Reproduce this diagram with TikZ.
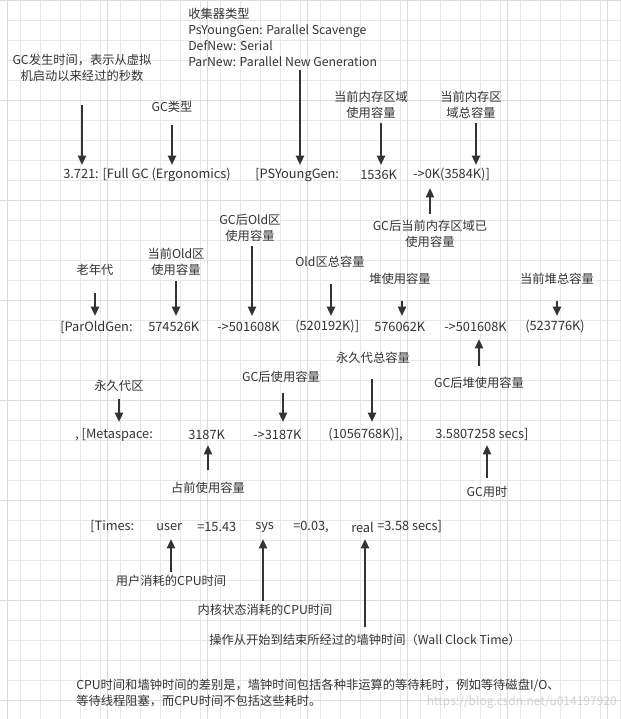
\documentclass[tikz,border=0pt]{standalone}
\usepackage{fontspec}
\setmainfont{Noto Sans CJK SC}
\usetikzlibrary{arrows.meta}
\definecolor{ink}{HTML}{333333}
\tikzset{
 lbl/.style={font=\fontsize{9.2pt}{12pt}\selectfont, text=ink, inner sep=0pt, align=center},
 code/.style={font=\fontsize{9.6pt}{12pt}\selectfont, text=ink, inner sep=0pt, anchor=west},
 arr/.style={draw=ink, line width=1.6pt, -{Triangle[length=7pt,width=6pt]}},
}
\begin{document}
\begin{tikzpicture}[x=0.75pt,y=-0.75pt]
\useasboundingbox (0,0) rectangle (621,719);
\fill[white] (0,0) rectangle (621,719);
\draw[black!9, line width=0.4pt] (7,0) grid[step=20*0.75pt] (621,719);
\foreach \i in {7,107,...,621} \draw[black!14] (\i,0) -- (\i,719);
\foreach \i in {0,100,...,719} \draw[black!14] (0,\i) -- (621,\i);
% top labels
\node[lbl, anchor=west, align=left] (coll) at (188,37) {收集器类型\\PsYoungGen: Parallel Scavenge\\DefNew: Serial\\ParNew: Parallel New Generation};
\node[lbl] (t1) at (82,68) {GC发生时间，表示从虚拟\\机启动以来经过的秒数};
\node[lbl] (t2) at (172,107) {GC类型};
\node[lbl] (t3) at (371,105) {当前内存区域\\使用容量};
\node[lbl] (t4) at (471,105) {当前内存区\\域总容量};
% line 1
\node[code] (a1) at (63,175) {3.721: [Full GC (Ergonomics)};
\node[code] (a2) at (255,175) {[PSYoungGen:};
\node[code] (a3) at (360,175) {1536K};
\node[code] (a4) at (413,175) {->0K(3584K)]};
\coordinate (p1) at (82,165); \coordinate (p2) at (172,165); \coordinate (p3) at (300,165);
\coordinate (p4) at (381,165); \coordinate (p5) at (476,165); \coordinate (p6) at (430,188);
\draw[arr] (82,105) -- (p1);
\draw[arr] (t2.south |- 0,125) -- (p2);
\draw[arr] (300,70) -- (p3);
\draw[arr] (381,123) -- (p4);
\draw[arr] (476,123) -- (p5);
\node[lbl] (t5) at (430,234) {GC后当前内存区域已\\使用容量};
\draw[arr] (430,214) -- (p6);
% line 2 labels
\node[lbl] (u1) at (250,228) {GC后Old区\\使用容量};
\node[lbl] (u2) at (176,262) {当前Old区\\使用容量};
\node[lbl] (u3) at (95,270) {老年代};
\node[lbl] (u4) at (330,262) {Old区总容量};
\node[lbl] (u5) at (400,279) {堆使用容量};
\node[lbl] (u6) at (557,279) {当前堆总容量};
\node[code] (b1) at (60,327) {[ParOldGen:};
\node[code] (b2) at (148,327) {574526K};
\node[code] (b3) at (217,327) {->501608K};
\node[code] (b4) at (295,327) {(520192K)]};
\node[code] (b5) at (374,327) {576062K};
\node[code] (b6) at (444,327) {->501608K};
\node[code] (b7) at (525,327) {(523776K)};
\draw[arr] (252,246) -- (252,316);
\draw[arr] (176,281) -- (176,316);
\draw[arr] (95,293) -- (95,316);
\draw[arr] (331,284) -- (331,316);
\draw[arr] (402,301) -- (402,316);
\draw[arr] (557,301) -- (557,316);
\node[lbl] (v1) at (479,383) {GC后堆使用容量};
\draw[arr] (479,366) -- (479,339);
% line 3
\node[lbl] (v2) at (373,358) {永久代总容量};
\node[lbl] (v3) at (281,377) {GC后使用容量};
\node[lbl] (v4) at (119,386) {永久代区};
\draw[arr] (372,379) -- (372,422);
\draw[arr] (283,393) -- (283,422);
\draw[arr] (119,399) -- (119,422);
\node[code] (c1) at (75,435) {, [Metaspace:};
\node[code] (c2) at (188,435) {3187K};
\node[code] (c3) at (253,435) {->3187K};
\node[code] (c4) at (328,435) {(1056768K)],};
\node[code] (c5) at (435,435) {3.5807258 secs]};
\node[lbl] (w1) at (208,488) {占前使用容量};
\node[lbl] (w2) at (487,492) {GC用时};
\draw[arr] (208,470) -- (208,445);
\draw[arr] (487,478) -- (487,445);
% line 4
\node[code] (d1) at (90,527) {[Times:};
\node[code] (d2) at (156,527) {user};
\node[code] (d3) at (197,527) {=15.43};
\node[code] (d4) at (255,527) {sys};
\node[code] (d5) at (293,527) {=0.03,};
\node[code] (d6) at (351,527) {real};
\node[code] (d7) at (377,527) {=3.58 secs]};
\node[lbl] (x1) at (171,581) {用户消耗的CPU时间};
\node[lbl] (x2) at (265,610) {内核状态消耗的CPU时间};
\node[lbl] (x3) at (365,640) {操作从开始到结束所经过的墙钟时间（Wall Clock Time）};
\draw[arr] (171,572) -- (171,539);
\draw[arr] (263,601) -- (263,539);
\draw[arr] (365,627) -- (365,539);
\node[lbl, anchor=west, align=left] (note) at (76,693) {CPU时间和墙钟时间的差别是，墙钟时间包括各种非运算的等待耗时，例如等待磁盘I/O、\\等待线程阻塞，而CPU时间不包括这些耗时。};
\node[font=\fontsize{9pt}{11pt}\selectfont, text=black!18, anchor=east, inner sep=0pt] (wm) at (617,702) {https://blog.csdn.net/u014197920};
\end{tikzpicture}
\end{document}
